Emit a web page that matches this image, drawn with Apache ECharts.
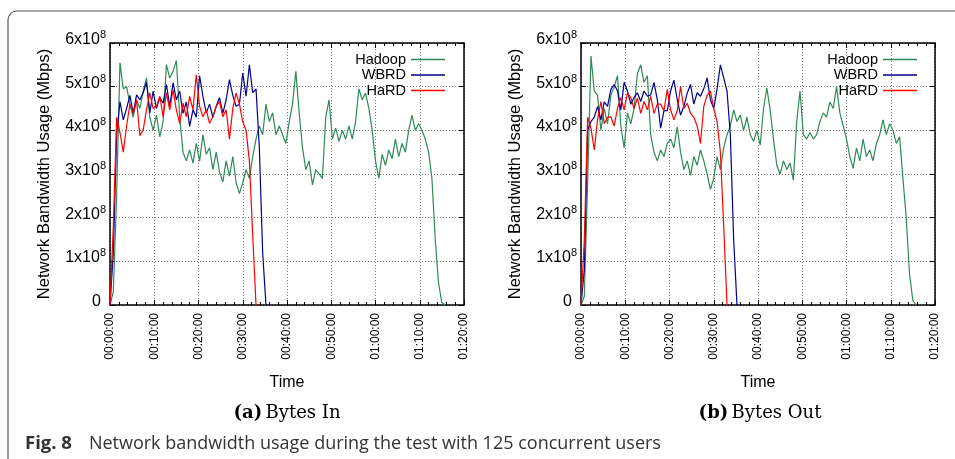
<!DOCTYPE html>
<html><head><meta charset="utf-8">
<script src="https://cdn.jsdelivr.net/npm/echarts@6/dist/echarts.min.js"></script>
<style>html,body{margin:0;padding:0;background:#fff}#c{width:955px;height:459px}</style>
</head><body><div id="c"></div><script>
// sampling interval of the measurements (minutes)
const SAMPLE_MIN = 0.75;
// values are in units of 10^8 Mbps
const UNIT = 1e8;
const SERIES_NAMES = ['Hadoop', 'WBRD', 'HaRD'];
const X_TICK_LABELS = ['00:00:00','00:10:00','00:20:00','00:30:00','00:40:00','00:50:00','01:00:00','01:10:00','01:20:00'];
const Y_TICKS = [0, 1, 2, 3, 4, 5, 6];
const PANEL_TITLES = ['Bytes In', 'Bytes Out'];

// (a) Bytes In
const inHadoop = [0,0.3,2.5,5.55,4.95,5.0,4.6,4.3,4.7,4.5,
 4.9,5.2,4.3,4.0,4.35,3.85,4.2,5.5,5.2,5.35,
 5.6,4.3,3.5,3.3,3.55,3.25,3.7,3.3,3.9,3.45,
 3.6,3.1,3.5,3.05,2.82,3.3,2.95,3.4,2.8,2.55,
 2.8,3.1,2.9,3.4,3.8,4.1,3.9,4.6,4.2,4.4,
 3.9,4.1,3.9,3.7,4.2,4.6,5.35,4.4,3.6,3.1,
 3.3,2.75,3.1,3.0,2.9,4.3,4.7,3.8,4.05,3.75,
 4.0,3.8,4.1,3.8,4.2,4.95,4.7,4.85,4.5,4.0,
 3.3,2.9,3.45,3.2,3.55,3.35,3.8,3.4,3.7,3.5,
 4.0,4.35,4.0,4.15,4.0,3.8,3.5,2.9,1.5,0.5,
 0.05,0];
const inWBRD = [0,1.2,3.9,4.66,4.24,4.5,4.8,4.39,4.81,4.7,
 4.86,5.1,4.4,4.9,4.5,4.75,4.62,5.05,4.55,5.09,
 4.7,4.9,4.39,4.65,4.09,4.47,4.3,5.25,4.78,4.4,
 4.6,4.3,4.55,4.75,4.39,4.7,5.16,4.8,4.55,4.6,
 5.31,4.78,5.5,4.86,4.95,3.6,1.2,0];
const inHaRD = [0,1.8,4.3,3.95,3.5,4.1,4.6,4.39,4.7,3.88,
 4.01,4.47,4.86,4.5,4.55,4.78,4.31,4.86,4.47,4.93,
 4.47,4.16,4.62,4.31,4.78,4.47,5.27,4.55,4.31,4.47,
 4.16,4.31,4.55,4.66,4.31,4.47,3.8,4.5,4.85,4.6,
 4.2,4.0,3.3,1.6,0];

// (b) Bytes Out
const outHadoop = [0,0.2,2.8,5.7,4.9,4.8,4.0,4.5,4.15,4.8,
 5.0,5.25,4.1,3.6,4.4,4.15,4.5,5.3,5.5,5.1,
 5.25,3.9,3.5,3.3,3.55,3.4,3.7,3.8,3.6,4.08,
 3.5,3.1,3.3,2.97,3.4,3.2,3.55,3.3,3.0,2.65,
 2.9,3.4,3.1,3.6,3.9,4.1,4.47,4.2,4.35,4.0,
 4.3,3.9,3.75,4.0,3.66,4.5,4.97,4.47,3.8,3.2,
 3.0,3.3,3.1,3.25,2.86,4.2,4.9,3.9,3.8,3.95,
 3.8,3.9,4.2,4.4,4.3,4.65,4.5,5.0,4.4,4.1,
 3.8,3.4,3.13,3.6,3.3,3.8,3.4,3.55,3.3,3.7,
 3.9,4.24,3.9,4.15,4.0,3.7,3.85,2.9,2.0,0.7,
 0.1,0];
const outWBRD = [0,0.8,4.0,4.2,4.3,4.55,4.24,4.65,4.55,4.94,
 5.05,4.9,4.47,5.1,4.9,4.6,4.75,4.86,4.66,4.9,
 4.78,4.81,5.1,4.7,4.05,4.45,4.45,4.9,5.15,4.7,
 4.35,4.55,4.85,5.05,4.6,4.86,4.78,4.95,5.2,4.7,
 4.5,4.95,5.5,5.2,4.9,3.9,1.5,0];
const outHaRD = [0,1.5,4.3,4.05,3.55,4.25,4.66,4.15,4.3,4.31,
 4.1,4.5,4.75,4.47,4.86,4.75,4.5,4.74,4.39,4.66,
 4.47,4.78,4.39,4.6,4.6,4.45,4.94,4.47,4.24,4.45,
 5.0,4.5,4.62,4.39,4.3,4.1,3.7,4.55,4.8,4.9,
 4.5,4.2,3.5,1.8,0];

const COLORS = {Hadoop: '#2e8b57', WBRD: '#00008b', HaRD: '#ff0000'};
const SANS = '"Liberation Sans", Arial, Helvetica, sans-serif';
const SERIF = '"DejaVu Serif", serif';

function toPairs(arr) { return arr.map((v, i) => [i * SAMPLE_MIN, v * UNIT]); }

const grids = [
  {left: 110, right: 491, top: 43, bottom: 154},
  {left: 581, right: 20, top: 43, bottom: 154}
];

const xAxes = [], yAxes = [];
grids.forEach((g, gi) => {
  const base = {gridIndex: gi, type: 'value', min: 0, max: 80, interval: 10};
  xAxes.push(Object.assign({}, base, {
    position: 'bottom',
    axisLine: {show: true, onZero: false, lineStyle: {color: '#000', width: 1.5}},
    axisTick: {show: true, inside: true, length: 5, lineStyle: {color: '#000', width: 1}},
    minorTick: {show: true, splitNumber: 5, length: 3, lineStyle: {color: '#000', width: 1}},
    axisLabel: {rotate: 90, fontSize: 12, margin: 8, color: '#000', fontFamily: SANS,
      formatter: v => X_TICK_LABELS[Math.round(v / 10)]},
    splitLine: {show: true, lineStyle: {type: [1, 2], color: '#777', width: 1}},
    name: 'Time', nameLocation: 'middle', nameGap: 70,
    nameTextStyle: {fontSize: 16, color: '#000', fontFamily: SANS}
  }));
  xAxes.push(Object.assign({}, base, {
    position: 'top',
    axisLine: {show: true, onZero: false, lineStyle: {color: '#000', width: 1.5}},
    axisTick: {show: true, inside: true, length: 5, lineStyle: {color: '#000', width: 1}},
    minorTick: {show: true, splitNumber: 5, length: 3, lineStyle: {color: '#000', width: 1}},
    axisLabel: {show: false}, splitLine: {show: false}
  }));
  const ybase = {gridIndex: gi, type: 'value', min: 0, max: 6 * UNIT, interval: UNIT};
  yAxes.push(Object.assign({}, ybase, {
    position: 'left',
    axisLine: {show: true, onZero: false, lineStyle: {color: '#000', width: 1.5}},
    axisTick: {show: true, inside: true, length: 5, lineStyle: {color: '#000', width: 1}},
    axisLabel: {margin: 4, color: '#000', padding: [0, 0, 7, 0],
      formatter: v => {
        const n = Math.round(v / UNIT);
        return n === 0 ? '{z|0}' : '{b|' + n + 'x10}{s|8}';
      },
      rich: {
        b: {fontSize: 16, fontFamily: SANS, color: '#000', lineHeight: 20},
        s: {fontSize: 11, fontFamily: SANS, color: '#000', verticalAlign: 'top', lineHeight: 11},
        z: {fontSize: 16, fontFamily: SANS, color: '#000', lineHeight: 20, padding: [0, 5, 0, 0]}
      }},
    splitLine: {show: true, lineStyle: {type: [1, 2], color: '#777', width: 1}},
    name: 'Network Bandwidth Usage (Mbps)', nameLocation: 'middle', nameGap: 57,
    nameTextStyle: {fontSize: 16.5, color: '#000', fontFamily: SANS}
  }));
  yAxes.push(Object.assign({}, ybase, {
    position: 'right',
    axisLine: {show: true, onZero: false, lineStyle: {color: '#000', width: 1.5}},
    axisTick: {show: true, inside: true, length: 5, lineStyle: {color: '#000', width: 1}},
    axisLabel: {show: false}, splitLine: {show: false}
  }));
});

const panels = [
  {Hadoop: inHadoop, WBRD: inWBRD, HaRD: inHaRD},
  {Hadoop: outHadoop, WBRD: outWBRD, HaRD: outHaRD}
];
const series = [];
panels.forEach((p, gi) => {
  SERIES_NAMES.forEach(name => {
    series.push({
      name, type: 'line', xAxisIndex: gi * 2, yAxisIndex: gi * 2,
      data: toPairs(p[name]), symbol: 'none', showSymbol: false,
      lineStyle: {color: COLORS[name], width: 1.2}, itemStyle: {color: COLORS[name]},
      z: 3, animation: false
    });
  });
});

const LINE_ICON = 'path://M0,0L34,0L34,1.3L0,1.3Z';
const legendBase = {
  orient: 'vertical', align: 'right', top: 47, itemWidth: 34, itemHeight: 14, itemGap: 0.5,
  selectedMode: false,
  data: SERIES_NAMES.map(n => ({name: n, icon: LINE_ICON})),
  textStyle: {fontSize: 14.5, lineHeight: 14, color: '#000', fontFamily: SANS}
};

const chart = echarts.init(document.getElementById('c'), null, {renderer: 'canvas'});
chart.setOption({
  animation: false,
  backgroundColor: '#fff',
  grid: grids,
  xAxis: xAxes,
  yAxis: yAxes,
  series,
  legend: [
    Object.assign({}, legendBase, {right: 505}),
    Object.assign({}, legendBase, {right: 33})
  ],
  graphic: [
    {type: 'rect', shape: {x: 8, y: 11, width: 1200, height: 700, r: 9}, silent: true,
      style: {fill: 'none', stroke: '#555', lineWidth: 1.2}, z: 0},
    {type: 'text', x: 287, y: 413, silent: true,
      style: {text: '{b|(a)} {n|' + PANEL_TITLES[0] + '}', align: 'center', verticalAlign: 'middle',
        rich: {b: {fontSize: 18, fontWeight: 'bold', fontFamily: SERIF, fill: '#000'},
               n: {fontSize: 18, fontFamily: SERIF, fill: '#000'}}}},
    {type: 'text', x: 760, y: 413, silent: true,
      style: {text: '{b|(b)} {n|' + PANEL_TITLES[1] + '}', align: 'center', verticalAlign: 'middle',
        rich: {b: {fontSize: 18, fontWeight: 'bold', fontFamily: SERIF, fill: '#000'},
               n: {fontSize: 18, fontFamily: SERIF, fill: '#000'}}}},
    {type: 'text', x: 25, y: 444, silent: true,
      style: {text: '{b|Fig. 8}{n|Network bandwidth usage during the test with 125 concurrent users}',
        align: 'left', verticalAlign: 'middle',
        rich: {b: {fontSize: 18.5, fontWeight: 'bold', fontFamily: '"Open Sans", sans-serif', fill: '#333'},
               n: {fontSize: 18, fontFamily: '"Open Sans", sans-serif', fill: '#333', padding: [0, 0, 0, 17]}}}}
  ]
});
</script></body></html>
